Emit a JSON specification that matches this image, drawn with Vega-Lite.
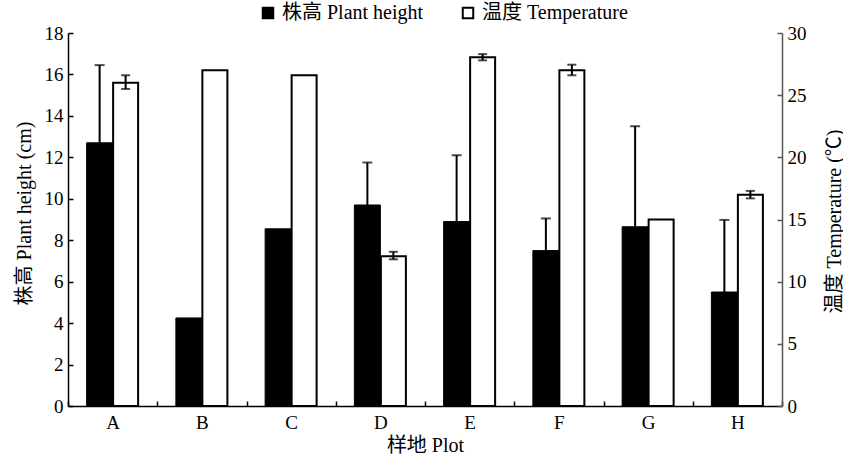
{
  "$schema": "https://vega.github.io/schema/vega-lite/v6.json",
  "width": 714,
  "height": 373,
  "autosize": "none",
  "padding": {"left": 68, "top": 33, "right": 61, "bottom": 52},
  "background": "white",
  "config": {
    "view": {"stroke": null},
    "font": "Liberation Serif, Noto Sans CJK SC",
    "axis": {
      "grid": false,
      "domainColor": "black",
      "tickColor": "black",
      "labelColor": "black",
      "titleColor": "black",
      "labelFont": "Liberation Serif, Noto Sans CJK SC",
      "titleFont": "Liberation Serif, Noto Sans CJK SC",
      "labelFontSize": 19,
      "titleFontSize": 20,
      "titleFontWeight": "normal",
      "domainWidth": 1.5,
      "tickWidth": 1.5,
      "tickSize": -5
    }
  },
  "data": {
    "values": [
      {"plot": "A", "h": 12.7, "h_up": 16.45, "t": 26.0, "t_lo": 25.5, "t_hi": 26.6},
      {"plot": "B", "h": 4.25, "h_up": null, "t": 27.0, "t_lo": null, "t_hi": null},
      {"plot": "C", "h": 8.55, "h_up": null, "t": 26.6, "t_lo": null, "t_hi": null},
      {"plot": "D", "h": 9.7, "h_up": 11.75, "t": 12.05, "t_lo": 11.8, "t_hi": 12.4},
      {"plot": "E", "h": 8.9, "h_up": 12.1, "t": 28.05, "t_lo": 27.8, "t_hi": 28.3},
      {"plot": "F", "h": 7.5, "h_up": 9.05, "t": 27.0, "t_lo": 26.6, "t_hi": 27.45},
      {"plot": "G", "h": 8.65, "h_up": 13.5, "t": 15.0, "t_lo": null, "t_hi": null},
      {"plot": "H", "h": 5.5, "h_up": 8.98, "t": 17.0, "t_lo": 16.7, "t_hi": 17.3}
    ]
  },
  "encoding": {
    "x": {
      "field": "plot",
      "type": "nominal",
      "scale": {"paddingInner": 0, "paddingOuter": 0},
      "axis": {
        "title": "样地 Plot",
        "labelAngle": 0,
        "tickBand": "extent",
        "labelPadding": 12,
        "titlePadding": 3
      }
    }
  },
  "layer": [
    {
      "layer": [
        {
          "mark": {"type": "bar", "width": 26, "xOffset": -13, "stroke": "black", "strokeWidth": 1},
          "encoding": {
            "y": {
              "field": "h",
              "type": "quantitative",
              "scale": {"domain": [0, 18]},
              "axis": {"orient": "left", "title": "株高 Plant height (cm)", "values": [0, 2, 4, 6, 8, 10, 12, 14, 16, 18], "labelPadding": 10, "titleX": -44, "titleY": 180, "titleAlign": "center", "titleBaseline": "middle"}
            },
            "color": {
              "datum": "株高 Plant height",
              "type": "nominal",
              "scale": {"domain": ["株高 Plant height", "温度 Temperature"], "range": ["black", "white"]},
              "legend": {
                "title": null,
                "orient": "none",
                "legendX": 190,
                "legendY": -30,
                "direction": "horizontal",
                "symbolType": "square",
                "symbolSize": 110,
                "symbolStrokeColor": "black",
                "symbolStrokeWidth": 2,
                "labelFont": "Liberation Serif, Noto Sans CJK SC",
                "labelFontSize": 20,
                "labelColor": "black",
                "columnPadding": 34,
                "labelOffset": 4
              }
            }
          }
        },
        {
          "transform": [{"filter": "isValid(datum.h_up)"}],
          "mark": {"type": "rule", "xOffset": -13, "strokeWidth": 2, "color": "black"},
          "encoding": {
            "y": {"field": "h", "type": "quantitative", "scale": {"domain": [0, 18]}, "axis": {"orient": "left", "title": "株高 Plant height (cm)", "values": [0, 2, 4, 6, 8, 10, 12, 14, 16, 18], "labelPadding": 10, "titleX": -44, "titleY": 180, "titleAlign": "center", "titleBaseline": "middle"}},
            "y2": {"field": "h_up"}
          }
        },
        {
          "transform": [{"filter": "isValid(datum.h_up)"}],
          "mark": {"type": "tick", "xOffset": -13, "size": 10, "thickness": 2, "color": "black", "orient": "horizontal"},
          "encoding": {
            "y": {"field": "h_up", "type": "quantitative", "scale": {"domain": [0, 18]}, "axis": {"orient": "left", "title": "株高 Plant height (cm)", "values": [0, 2, 4, 6, 8, 10, 12, 14, 16, 18], "labelPadding": 10, "titleX": -44, "titleY": 180, "titleAlign": "center", "titleBaseline": "middle"}}
          }
        }
      ]
    },
    {
      "layer": [
        {
          "mark": {"type": "bar", "width": 25, "xOffset": 13, "stroke": "black", "strokeWidth": 2},
          "encoding": {
            "y": {
              "field": "t",
              "type": "quantitative",
              "scale": {"domain": [0, 30]},
              "axis": {"orient": "right", "title": "温度 Temperature (℃)", "titleAngle": 270, "titleX": 52, "titleY": 188, "titleAlign": "center", "titleBaseline": "middle", "values": [0, 5, 10, 15, 20, 25, 30], "labelPadding": 10, "domainColor": "#555", "tickColor": "#555"}
            },
            "color": {"datum": "温度 Temperature", "type": "nominal"}
          }
        },
        {
          "transform": [{"filter": "isValid(datum.t_lo)"}],
          "mark": {"type": "rule", "xOffset": 13, "strokeWidth": 2, "color": "black"},
          "encoding": {
            "y": {"field": "t_lo", "type": "quantitative", "scale": {"domain": [0, 30]}, "axis": {"orient": "right", "title": "温度 Temperature (℃)", "titleAngle": 270, "titleX": 52, "titleY": 188, "titleAlign": "center", "titleBaseline": "middle", "values": [0, 5, 10, 15, 20, 25, 30], "labelPadding": 10, "domainColor": "#555", "tickColor": "#555"}},
            "y2": {"field": "t_hi"}
          }
        },
        {
          "transform": [{"filter": "isValid(datum.t_lo)"}],
          "mark": {"type": "tick", "xOffset": 13, "size": 9, "thickness": 2, "color": "black", "orient": "horizontal"},
          "encoding": {
            "y": {"field": "t_lo", "type": "quantitative", "scale": {"domain": [0, 30]}, "axis": {"orient": "right", "title": "温度 Temperature (℃)", "titleAngle": 270, "titleX": 52, "titleY": 188, "titleAlign": "center", "titleBaseline": "middle", "values": [0, 5, 10, 15, 20, 25, 30], "labelPadding": 10, "domainColor": "#555", "tickColor": "#555"}}
          }
        },
        {
          "transform": [{"filter": "isValid(datum.t_hi)"}],
          "mark": {"type": "tick", "xOffset": 13, "size": 9, "thickness": 2, "color": "black", "orient": "horizontal"},
          "encoding": {
            "y": {"field": "t_hi", "type": "quantitative", "scale": {"domain": [0, 30]}, "axis": {"orient": "right", "title": "温度 Temperature (℃)", "titleAngle": 270, "titleX": 52, "titleY": 188, "titleAlign": "center", "titleBaseline": "middle", "values": [0, 5, 10, 15, 20, 25, 30], "labelPadding": 10, "domainColor": "#555", "tickColor": "#555"}}
          }
        }
      ]
    }
  ],
  "resolve": {"scale": {"y": "independent"}}
}
